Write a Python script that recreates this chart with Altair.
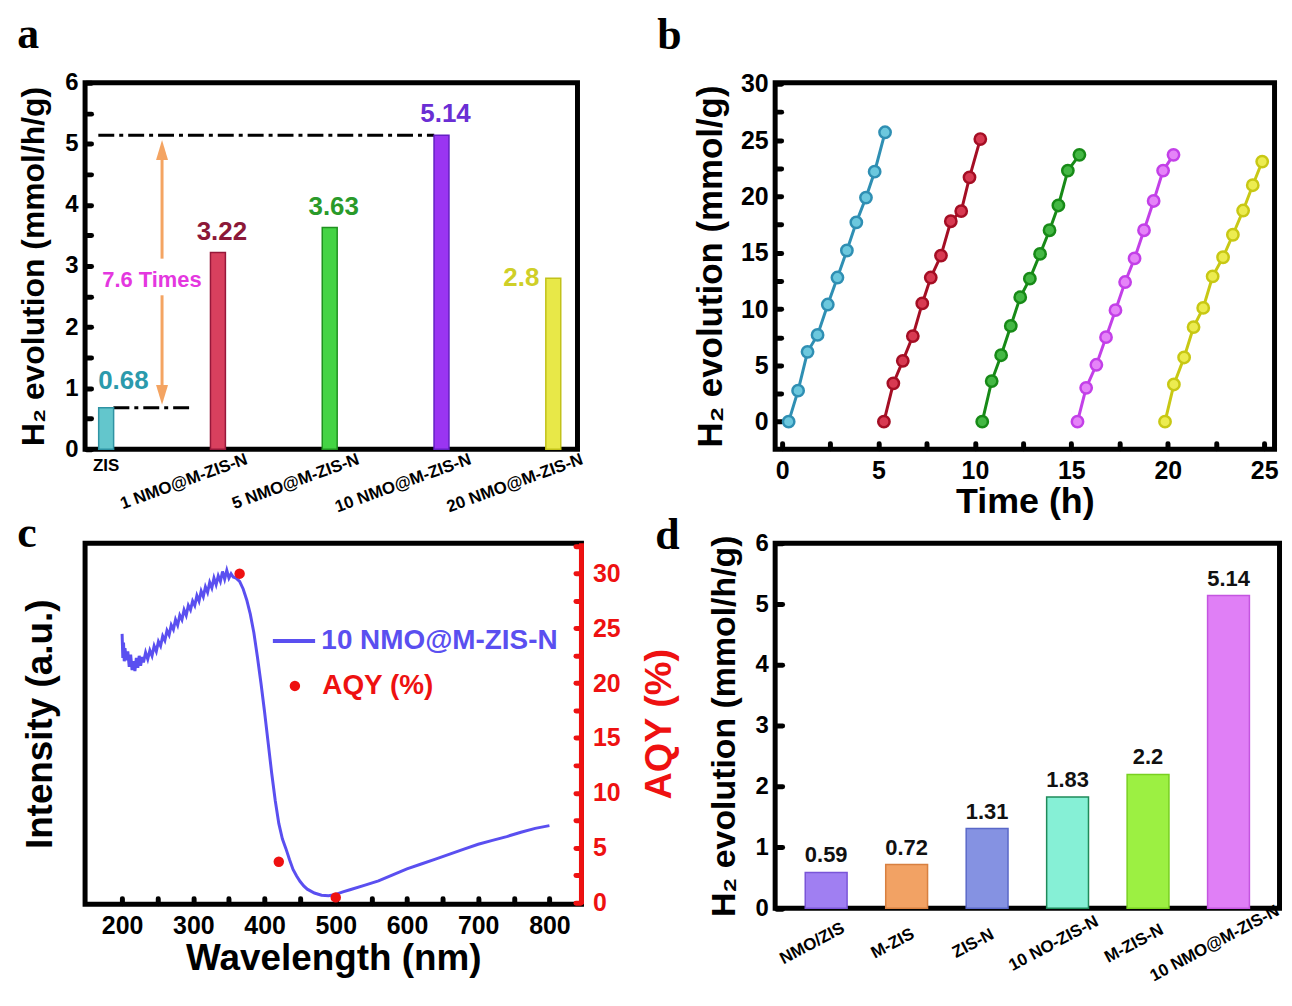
import altair as alt
import pandas as pd

FONT = "Liberation Sans"
SERIF = "Liberation Serif"

# ---------------- panel a data ----------------
a_cats = ["ZIS", "1 NMO@M-ZIS-N", "5 NMO@M-ZIS-N", "10 NMO@M-ZIS-N", "20 NMO@M-ZIS-N"]
a_vals = [0.68, 3.22, 3.63, 5.14, 2.8]
a_fill = ["#63c6cc", "#d8405e", "#44d444", "#9a35f2", "#e8e848"]
a_edge = ["#2f93a3", "#96183a", "#1f921f", "#6420c4", "#c2c21a"]
a_txt = ["#2b9aac", "#8c1838", "#2a9a2a", "#6a2ed4", "#cfcf28"]
a_fold = "7.6 Times"
a_yticks = [0, 0.5, 1, 1.5, 2, 2.5, 3, 3.5, 4, 4.5, 5, 5.5, 6]

# ---------------- panel b data ----------------
b_t1 = [0.34, 0.83, 1.32, 1.84, 2.37, 2.87, 3.36, 3.85, 4.35, 4.80, 5.34]
b_h1 = [0.0, 2.75, 6.2, 7.7, 10.4, 12.8, 15.2, 17.7, 19.9, 22.2, 25.7]
b_t2 = [5.28, 5.77, 6.26, 6.78, 7.27, 7.71, 8.24, 8.75, 9.29, 9.72, 10.28]
b_h2 = [0.0, 3.4, 5.4, 7.6, 10.5, 12.8, 14.75, 17.8, 18.7, 21.7, 25.1]
b_t3 = [10.38, 10.87, 11.36, 11.86, 12.35, 12.85, 13.38, 13.87, 14.33, 14.82, 15.42]
b_h3 = [0.0, 3.6, 5.9, 8.5, 11.05, 12.7, 14.9, 17.0, 19.2, 22.3, 23.7]
b_t4 = [15.32, 15.77, 16.30, 16.80, 17.29, 17.79, 18.28, 18.77, 19.27, 19.76, 20.30]
b_h4 = [0.0, 3.0, 5.05, 7.5, 9.9, 12.4, 14.5, 17.0, 19.6, 22.3, 23.7]
b_t5 = [19.86, 20.32, 20.85, 21.34, 21.84, 22.33, 22.87, 23.38, 23.91, 24.41, 24.90]
b_h5 = [0.0, 3.3, 5.7, 8.4, 10.1, 12.9, 14.6, 16.6, 18.75, 21.0, 23.1]
b_cycles = ["1", "2", "3", "4", "5"]
b_base = ["#2f8fb3", "#a40e24", "#178a17", "#c340e8", "#c8c814"]
b_light = ["#6cc8de", "#d83a52", "#44b844", "#e584f8", "#ecec50"]
b_xticks = [0, 2.5, 5, 7.5, 10, 12.5, 15, 17.5, 20, 22.5, 25]
b_yticks = [0, 2.5, 5, 7.5, 10, 12.5, 15, 17.5, 20, 22.5, 25, 27.5, 30]

# ---------------- panel c data ----------------
c_wl = [200, 201, 202, 203, 204, 206, 208, 210, 212, 214, 216, 218, 220, 222, 224, 226,
        228, 230, 233, 236, 239, 242, 245, 248, 251, 254, 257, 260, 263, 266, 269, 272,
        275, 278, 281, 284, 287, 290, 293, 296, 299, 302, 305, 308, 311, 314, 317, 320,
        323, 326, 329, 332, 335, 338, 341, 344, 347, 350, 353, 356, 360, 365, 370,
        375, 380, 385, 390, 395, 400, 405, 410, 415, 420, 425, 430, 435, 440, 445, 450,
        455, 460, 470, 480, 490, 500, 510, 520, 540, 560, 580, 600, 620, 640, 660, 680,
        700, 720, 740, 760, 780, 800]
c_int = [24.5, 22.3, 23.7, 22.0, 23.2, 22.1, 22.9, 21.5, 22.6, 21.2, 22.0, 21.1, 22.3, 21.4, 22.5, 21.6,
         22.4, 21.9, 22.8, 22.2, 23.0, 22.5, 23.4, 22.9, 23.8, 23.4, 24.3, 23.9, 24.8, 24.4, 25.3, 24.9,
         25.8, 25.3, 26.2, 25.8, 26.7, 26.2, 27.1, 26.7, 27.5, 27.1, 28.0, 27.5, 28.4, 27.9, 28.8, 28.3,
         29.2, 28.7, 29.6, 29.0, 29.8, 29.3, 30.2, 29.5, 30.3, 29.6, 30.0, 29.7, 29.6, 29.3, 28.6,
         27.6, 26.3, 24.6, 22.4, 20.0, 17.4, 14.6, 11.8, 9.3, 7.2, 5.8, 4.9, 3.9, 3.0, 2.4, 1.9,
         1.5, 1.2, 0.85, 0.65, 0.6, 0.72, 0.95, 1.15, 1.55, 1.95, 2.5, 3.05, 3.5, 3.95, 4.4, 4.85,
         5.3, 5.65, 6.0, 6.4, 6.75, 7.0]
c_series = "10 NMO@M-ZIS-N"
aqy_wl = [365, 420, 500]
aqy_val = [30.0, 3.7, 0.45]
aqy_series = "AQY (%)"
c_xticks = [200, 250, 300, 350, 400, 450, 500, 550, 600, 650, 700, 750, 800]
c_yticks = [0, 2.5, 5, 7.5, 10, 12.5, 15, 17.5, 20, 22.5, 25, 27.5, 30, 32.5]

# ---------------- panel d data ----------------
d_cats = ["NMO/ZIS", "M-ZIS", "ZIS-N", "10 NO-ZIS-N", "M-ZIS-N", "10 NMO@M-ZIS-N"]
d_vals = [0.59, 0.72, 1.31, 1.83, 2.2, 5.14]
d_fill = ["#a07ff2", "#f2a264", "#8592e2", "#86f0d6", "#9cf042", "#e07ff6"]
d_edge = ["#7a55d8", "#d88040", "#5a68c8", "#1f8a5a", "#78d020", "#c455e0"]
d_yticks = [0, 1, 2, 3, 4, 5, 6]

RED = "#ee1111"
BLUE = "#5a4ff0"
ORANGE = "#f4a462"
MAGENTA = "#e437df"

AX = dict(labelFont=FONT, labelFontWeight="bold", titleFont=FONT, titleFontWeight="bold",
          labelColor="black", titleColor="black", tickColor="black", grid=False,
          domain=False, tickCap="round")


def lab_expr(step):
    return f"datum.value % {step} == 0 ? format(datum.value, 'd') : ''"


def letter(t, dx, offset):
    return alt.TitleParams(t, anchor="start", frame="group", font=SERIF, fontSize=44,
                           fontWeight="bold", color="black", dx=dx, offset=offset)


# ================= panel a =================
WA, HA = 494.5, 368
a_df = pd.DataFrame({"cat": a_cats, "val": a_vals, "pos": list(range(len(a_cats)))})
a_df["base"] = 0.0
xa = alt.Scale(domain=[-0.144, 4.172], nice=False, zero=False)
ya = alt.Scale(domain=[0, 6], nice=False, zero=False)
ax_a_y = alt.Axis(values=a_yticks, labelExpr=lab_expr(1), tickSize=5, tickWidth=5, offset=-6,
                  labelPadding=8, labelFontSize=24, title="H₂ evolution (mmol/h/g)",
                  titleFontSize=32, titlePadding=14, **AX)
half_bar = 0.065


def a_x(field):
    return alt.X(field, scale=xa, axis=None)


def a_y(field):
    return alt.Y(field, scale=ya, axis=ax_a_y)


a_bars = alt.Chart(a_df).mark_bar(size=15, strokeWidth=1.5).encode(
    x=a_x("pos:Q"), y=a_y("val:Q"),
    fill=alt.Fill("cat:N", scale=alt.Scale(domain=a_cats, range=a_fill), legend=None),
    stroke=alt.Stroke("cat:N", scale=alt.Scale(domain=a_cats, range=a_edge), legend=None),
)
txt_col = alt.Color("cat:N", scale=alt.Scale(domain=a_cats, range=a_txt), legend=None)

a_t_first = alt.Chart(a_df).transform_filter(alt.datum.pos == 0).mark_text(
    font=FONT, fontWeight="bold", fontSize=26, align="left", baseline="bottom", dx=-8, dy=-14
).encode(x=a_x("pos:Q"), y=a_y("val:Q"), text="val:N", color=txt_col)
a_t_mid = alt.Chart(a_df).transform_filter((alt.datum.pos > 0) & (alt.datum.pos < 4)).mark_text(
    font=FONT, fontWeight="bold", fontSize=26, align="center", baseline="bottom", dx=4, dy=-8
).encode(x=a_x("pos:Q"), y=a_y("val:Q"), text="val:N", color=txt_col)
a_t_last = alt.Chart(a_df).transform_filter(alt.datum.pos == 4).mark_text(
    font=FONT, fontWeight="bold", fontSize=26, align="right", baseline="middle", dx=-14
).encode(x=a_x("pos:Q"), y=a_y("val:Q"), text="val:N", color=txt_col)

guide_df = pd.DataFrame({
    "gx1": [-0.07, 0 + half_bar],
    "gx2": [3 - half_bar, 0.75],
    "gy": [a_vals[3], a_vals[0]],
})
a_guides = alt.Chart(guide_df).mark_rule(strokeWidth=3, color="black", strokeDash=[16, 5, 4, 5]).encode(
    x=a_x("gx1:Q"), x2="gx2", y=a_y("gy:Q"))

arrow_x = 0.5
arr_df = pd.DataFrame({"ax": [arrow_x, arrow_x], "ay1": [3.12, a_vals[0] + 0.21],
                       "ay2": [a_vals[3] - 0.24, 2.52]})
a_arrow = alt.Chart(arr_df).mark_rule(strokeWidth=3, color=ORANGE).encode(
    x=a_x("ax:Q"), y=a_y("ay1:Q"), y2="ay2")
head_up = alt.Chart(pd.DataFrame({"ax": [arrow_x], "ay": [a_vals[3] - 0.24]})).mark_point(
    shape="M0,-1L0.6,1L-0.6,1Z", size=400, filled=True, opacity=1, color=ORANGE).encode(
    x=a_x("ax:Q"), y=a_y("ay:Q"))
head_dn = alt.Chart(pd.DataFrame({"ax": [arrow_x], "ay": [a_vals[0] + 0.21]})).mark_point(
    shape="M0,1L0.6,-1L-0.6,-1Z", size=400, filled=True, opacity=1, color=ORANGE).encode(
    x=a_x("ax:Q"), y=a_y("ay:Q"))
a_foldtxt = alt.Chart(pd.DataFrame({"ax": [arrow_x - 0.09], "ay": [2.77], "t": [a_fold]})).mark_text(
    font=FONT, fontWeight="bold", fontSize=22, color=MAGENTA, align="center", baseline="middle").encode(
    x=a_x("ax:Q"), y=a_y("ay:Q"), text="t:N")

a_lab0 = alt.Chart(a_df).transform_filter(alt.datum.pos == 0).mark_text(
    font=FONT, fontWeight="bold", fontSize=17, color="black", align="center", baseline="top", dy=9
).encode(x=a_x("pos:Q"), y=a_y("base:Q"), text="cat:N")
a_labs = alt.Chart(a_df).transform_filter(alt.datum.pos > 0).mark_text(
    font=FONT, fontWeight="bold", fontSize=17, color="black", align="right", baseline="top",
    angle=340, dx=24, dy=11
).encode(x=a_x("pos:Q"), y=a_y("base:Q"), text="cat:N")

panel_a = alt.layer(a_guides, a_arrow, head_up, head_dn, a_bars, a_t_first, a_t_mid, a_t_last,
                    a_foldtxt, a_lab0, a_labs).properties(width=WA, height=HA, title=letter("a", -68, 14))

# ================= panel b =================
WB, HB = 501.5, 368
b_rows = []
for cyc, ts, hs in zip(b_cycles, [b_t1, b_t2, b_t3, b_t4, b_t5], [b_h1, b_h2, b_h3, b_h4, b_h5]):
    for t, h in zip(ts, hs):
        b_rows.append({"cycle": cyc, "t": t, "h": h})
b_df = pd.DataFrame(b_rows)
xb = alt.Scale(domain=[-0.36, 25.54], nice=False, zero=False)
yb = alt.Scale(domain=[-2.45, 30.1], nice=False, zero=False)
ax_b_x = alt.Axis(values=b_xticks, labelExpr=lab_expr(5), tickSize=5, tickWidth=5, offset=-6,
                  labelPadding=10, labelFontSize=25, title="Time (h)", titleFontSize=36,
                  titlePadding=2, **AX)
ax_b_y = alt.Axis(values=b_yticks, labelExpr=lab_expr(5), tickSize=5, tickWidth=5, offset=-6,
                  labelPadding=8, labelFontSize=25, title="H₂ evolution (mmol/g)", titleFontSize=35,
                  titlePadding=12, **AX)
b_line = alt.Chart(b_df).mark_line(strokeWidth=3).encode(
    x=alt.X("t:Q", scale=xb, axis=ax_b_x), y=alt.Y("h:Q", scale=yb, axis=ax_b_y), detail="cycle:N",
    color=alt.Color("cycle:N", scale=alt.Scale(domain=b_cycles, range=b_base), legend=None))
b_pts = alt.Chart(b_df).mark_circle(size=130, opacity=1, strokeWidth=2.5).encode(
    x=alt.X("t:Q", scale=xb, axis=ax_b_x), y=alt.Y("h:Q", scale=yb, axis=ax_b_y),
    fill=alt.Fill("cycle:N", scale=alt.Scale(domain=b_cycles, range=b_light), legend=None),
    stroke=alt.Stroke("cycle:N", scale=alt.Scale(domain=b_cycles, range=b_base), legend=None))
panel_b = alt.layer(b_line, b_pts).properties(width=WB, height=HB, title=letter("b", -118.5, 14))

# ================= panel c =================
WC, HC = 498.5, 362.5
c_df = pd.DataFrame({"wl": c_wl, "inten": c_int, "series": c_series})
aqy_df = pd.DataFrame({"wl": aqy_wl, "aqy": aqy_val, "series2": aqy_series})
xc_dom = [148, 845]
xc = alt.Scale(domain=xc_dom, nice=False, zero=False)
yc_dom = [-0.18, 32.77]
yc = alt.Scale(domain=yc_dom, nice=False, zero=False)
ax_c_x = alt.Axis(values=c_xticks, labelExpr=lab_expr(100), tickSize=5, tickWidth=5, offset=-6,
                  labelPadding=10, labelFontSize=25, title="Wavelength (nm)", titleFontSize=37,
                  titlePadding=2, **AX)
c_line = alt.Chart(c_df).mark_line(strokeWidth=3).encode(
    x=alt.X("wl:Q", scale=xc, axis=ax_c_x),
    y=alt.Y("inten:Q", scale=yc, axis=alt.Axis(
        orient="left", ticks=False, labels=False, domain=False, grid=False,
        title="Intensity (a.u.)", titleFont=FONT, titleFontWeight="bold", titleFontSize=37,
        titleColor="black", titlePadding=26)),
    stroke=alt.Stroke("series:N", scale=alt.Scale(domain=[c_series], range=[BLUE]),
                      legend=alt.Legend(orient="none", legendX=186.3, legendY=74.6, title=None,
                                        symbolType="stroke", symbolSize=1800, symbolStrokeWidth=4,
                                        labelColor=BLUE, labelFont=FONT, labelFontWeight="bold",
                                        labelFontSize=28, labelOffset=4, labelLimit=400)),
)
c_pts = alt.Chart(aqy_df).mark_circle(size=110, opacity=1).encode(
    x=alt.X("wl:Q", scale=xc, axis=ax_c_x),
    y=alt.Y("aqy:Q", scale=yc, axis=alt.Axis(
        orient="right", values=c_yticks, labelExpr=lab_expr(5), tickSize=5, tickWidth=5,
        offset=-6, labelPadding=12, labelFontSize=25, labelFont=FONT, labelFontWeight="bold",
        labelColor=RED, tickColor=RED, tickCap="round", domain=False, grid=False,
        title="AQY (%)", titleFont=FONT, titleFontWeight="bold", titleFontSize=38,
        titleColor=RED, titleAngle=270, titleBaseline="top", titlePadding=21)),
    fill=alt.Fill("series2:N", scale=alt.Scale(domain=[aqy_series], range=[RED]),
                  legend=alt.Legend(orient="none", legendX=196.7, legendY=129.2, title=None,
                                    symbolType="circle", symbolSize=110, labelColor=RED,
                                    labelFont=FONT, labelFontWeight="bold", labelFontSize=28,
                                    labelOffset=13.5, labelLimit=400)),
)
# red right-hand frame edge, drawn along the AQY scale limits
edge_df = pd.DataFrame({"ex": [xc_dom[1]], "ey1": [yc_dom[0]], "ey2": [yc_dom[1]]})
c_edge = alt.Chart(edge_df).mark_rule(color=RED, strokeWidth=5).encode(
    x=alt.X("ex:Q", scale=xc, axis=ax_c_x), y=alt.Y("ey1:Q", scale=yc, axis=None), y2="ey2")
panel_c = alt.layer(c_line, c_pts, c_edge).resolve_scale(y="independent").properties(
    width=WC, height=HC, title=letter("c", -68, -15))

# ================= panel d =================
WD, HD = 506.5, 366.5
d_df = pd.DataFrame({"cat": d_cats, "val": d_vals})
xd = alt.Scale(domain=d_cats, paddingInner=0.48, paddingOuter=0.374)
yd = alt.Scale(domain=[0, 6], nice=False, zero=False)
ax_d_x = alt.Axis(labelAngle=332, labelAlign="center", labelBaseline="middle", labelPadding=35,
                  labelOffset=-14, labelFontSize=17, labelFont=FONT, labelFontWeight="bold",
                  labelColor="black", ticks=False, tickSize=0, domain=False, grid=False, title=None)
ax_d_y = alt.Axis(values=d_yticks, tickSize=6, tickWidth=5, offset=-7, labelPadding=8, labelFontSize=24,
                  title="H₂ evolution (mmol/h/g)", titleFontSize=34, titlePadding=13, **AX)
d_bars = alt.Chart(d_df).mark_bar(strokeWidth=1.5).encode(
    x=alt.X("cat:N", scale=xd, sort=d_cats, axis=ax_d_x),
    y=alt.Y("val:Q", scale=yd, axis=ax_d_y),
    fill=alt.Fill("cat:N", scale=alt.Scale(domain=d_cats, range=d_fill), legend=None),
    stroke=alt.Stroke("cat:N", scale=alt.Scale(domain=d_cats, range=d_edge), legend=None),
)
d_txt = alt.Chart(d_df).mark_text(font=FONT, fontWeight="bold", fontSize=22, color="#111111",
                                  baseline="bottom", dy=-5).encode(
    x=alt.X("cat:N", scale=xd, sort=d_cats, axis=ax_d_x), y=alt.Y("val:Q", scale=yd, axis=ax_d_y),
    text="val:N")
panel_d = alt.layer(d_bars, d_txt).properties(width=WD, height=HD, title=letter("d", -120.5, -26.5))

chart = alt.concat(panel_a, panel_b, panel_c, panel_d, columns=2,
                   spacing={"row": 94.5, "column": 194}, bounds="flush").resolve_scale(
    color="independent", fill="independent", stroke="independent"
).properties(
    padding={"left": 6.4, "top": 0, "right": 0, "bottom": 0}
).configure(font=FONT).configure_view(stroke="black", strokeWidth=5)

chart.save("out.html", embed_options={"renderer": "svg", "actions": False})
